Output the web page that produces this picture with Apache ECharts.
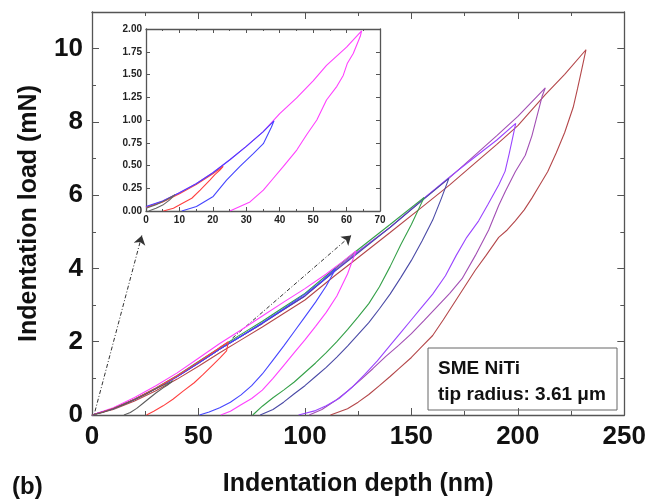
<!DOCTYPE html>
<html>
<head>
<meta charset="utf-8">
<script src="https://cdn.jsdelivr.net/npm/echarts@6/dist/echarts.min.js"></script>
<style>
html, body { margin: 0; padding: 0; background: #fff; }
#chart { width: 649px; height: 502px; }
</style>
</head>
<body>
<div id="chart"></div>
<script>
// load-depth curves, points are [depth (nm), load (mN)], loading then unloading
const curveGray = [[0,0],[5,0.07],[10,0.17],[15,0.29],[20,0.42],[25,0.56],[30,0.72],[35,0.85],[38,0.93],
  [35.5,0.82],[33.4,0.74],[30,0.6],[27.2,0.47],[24,0.32],[21,0.18],[18,0.07],[15,0]];
const curveRed = [[0,0],[5,0.08],[10,0.18],[15,0.3],[20,0.43],[25,0.58],[30,0.73],[35,0.9],[40,1.07],[45,1.26],[50,1.45],[57,1.72],[64,2.0],
  [63.2,1.75],[60,1.55],[56.8,1.37],[52.1,1.1],[48,0.88],[42.8,0.65],[38,0.43],[33.4,0.25],[29,0.1],[25.6,0]];
const curveBlue = [[0,0],[10,0.17],[20,0.42],[30,0.72],[40,1.05],[50,1.42],[60,1.8],[70,2.15],[80,2.52],[90,2.9],[100,3.3],[108,3.65],[114.5,4.0],
  [110,3.52],[105,3.08],[100,2.68],[95,2.28],[90,1.88],[85,1.5],[80,1.12],[75,0.8],[70,0.55],[65,0.35],[60,0.2],[55,0.08],[50.5,0]];
const curveMagenta = [[0,0],[10,0.2],[20,0.48],[30,0.8],[40,1.15],[50,1.55],[60,1.95],[70,2.32],[80,2.7],[90,3.08],[100,3.45],[110,3.85],[118,4.2],[124,4.48],
  [120,3.85],[115,3.25],[110,2.8],[105,2.42],[100,2.05],[95,1.7],[90,1.35],[85,1.0],[80,0.68],[75,0.45],[70,0.28],[65,0.1],[60.5,0]];
const curveGreen = [[0,0],[10,0.17],[20,0.43],[30,0.74],[40,1.08],[50,1.46],[60,1.84],[70,2.2],[80,2.56],[90,2.94],[100,3.32],[114,4.0],[124,4.47],[140,5.2],[156,5.94],
  [150,5.2],[145,4.65],[140,4.05],[135,3.5],[130,3.04],[125,2.68],[120,2.33],[115,2.0],[110,1.7],[105,1.42],[100,1.16],[95,0.9],[90,0.68],[85,0.47],[80,0.24],[75.5,0]];
const curveNavy = [[0,0],[10,0.17],[20,0.42],[30,0.72],[40,1.05],[50,1.42],[60,1.8],[70,2.15],[80,2.5],[90,2.88],[100,3.25],[114,3.92],[124,4.38],[140,5.12],[156,5.9],[167.6,6.46],
  [164,5.9],[160,5.32],[155,4.75],[150,4.22],[145,3.75],[140,3.3],[135,2.9],[130,2.52],[125,2.2],[120,1.88],[115,1.58],[110,1.3],[105,1.05],[100,0.8],[95,0.58],[90,0.35],[85,0.15],[79,0]];
const curveViolet = [[0,0],[10,0.17],[20,0.42],[30,0.72],[40,1.05],[50,1.42],[60,1.8],[70,2.15],[80,2.5],[90,2.88],[100,3.25],[114,3.95],[124,4.42],[140,5.12],[156,5.92],[168,6.5],[180,7.05],[190,7.5],[199,7.96],
  [197.5,7.55],[196,7.15],[194,6.65],[191,6.28],[186,5.75],[181.6,5.3],[176,4.85],[171,4.35],[166,3.8],[160,3.3],[155,2.95],[150,2.6],[145,2.25],[140,1.9],[134,1.48],[128,1.1],[122,0.75],[116,0.45],[110,0.25],[105,0.12],[97,0]];
const curvePurple = [[0,0],[10,0.17],[20,0.42],[30,0.72],[40,1.05],[50,1.42],[60,1.8],[70,2.15],[80,2.5],[90,2.88],[100,3.25],[114,3.95],[124,4.42],[140,5.12],[156,5.92],[168,6.48],[180,7.1],[190,7.62],[200,8.15],[212.9,8.93],
  [211.4,8.7],[209,8.16],[206.6,7.62],[203.5,7.09],[198.8,6.64],[194.1,6.1],[191,5.72],[186.3,5.05],[180,4.35],[173.8,3.72],[168,3.32],[162,2.95],[156,2.58],[150,2.22],[144,1.9],[138,1.6],[132,1.27],[126,0.95],[120,0.65],[114,0.38],[108,0.15],[102,0]];
const curveBrown = [[0,0],[10,0.15],[20,0.38],[30,0.66],[40,0.98],[50,1.33],[60,1.7],[70,2.05],[80,2.4],[90,2.77],[100,3.14],[114,3.8],[124,4.25],[140,4.98],[156,5.72],[168,6.28],[180,6.88],[190,7.38],[200,7.9],[213,8.75],[222,9.3],[232,9.97],
  [231,9.7],[229.5,9.3],[228,8.9],[226,8.4],[222,7.71],[218,7.15],[214,6.64],[210,6.25],[206.6,5.92],[203,5.6],[198.8,5.3],[195,5.05],[191,4.85],[185,4.35],[180,3.95],[175,3.5],[170,3.05],[165,2.6],[160,2.17],[155,1.87],[150,1.57],[144,1.26],[140,1.05],[135,0.8],[130,0.56],[125,0.35],[120,0.17],[112,0]];

// inset (low loads)
const insetGray = [[0,0.03],[3,0.07],[6,0.12],[8.7,0.18],[7,0.12],[5,0.065],[3,0.03],[0.8,0]];
const insetRed = [[0,0.04],[5,0.1],[10,0.19],[15,0.29],[20,0.41],[23.1,0.49],
  [22.1,0.45],[20.6,0.4],[19.1,0.34],[16.2,0.23],[13.7,0.14],[11.2,0.09],[8.2,0.03],[5.2,0]];
const insetBlue = [[0,0.05],[5,0.11],[10,0.2],[15,0.3],[20,0.42],[25,0.56],[30,0.71],[35,0.87],[38.3,0.99],
  [37.5,0.92],[37.1,0.89],[35.1,0.74],[32.1,0.63],[28.1,0.49],[24.1,0.34],[20.1,0.16],[15.1,0.05],[10.7,0]];
const insetMagenta = [[0,0.04],[5,0.11],[10,0.2],[15,0.3],[20,0.42],[25,0.56],[30,0.71],[35,0.87],[40,1.07],[45,1.24],[50,1.43],[54,1.6],[60,1.8],[64.5,1.98],
  [64.1,1.92],[62,1.73],[60.2,1.62],[59,1.49],[57.1,1.37],[54,1.22],[51.1,1.0],[48.1,0.84],[45.1,0.67],[41.1,0.49],[38.1,0.36],[35.1,0.23],[31.1,0.1],[28.1,0.05],[25.1,0]];

// dashed pointer arrows, [from, to] in main-plot units
const arrowLines = [[[1.4,0.1],[23.4,4.9]], [[66,2.1],[121.7,4.9]]];

const mainCurves = [
  { data: curveBrown, color: '#b4474a' },
  { data: curvePurple, color: '#a24fb4' },
  { data: curveViolet, color: '#9a45ff' },
  { data: curveNavy, color: '#4a4aa6' },
  { data: curveGreen, color: '#34a048' },
  { data: curveMagenta, color: '#ff40ff' },
  { data: curveBlue, color: '#4545ff' },
  { data: curveRed, color: '#ff4040' },
  { data: curveGray, color: '#5c5c5c' }
];
const insetCurves = [
  { data: insetMagenta, color: '#ff40ff' },
  { data: insetRed, color: '#ff4040' },
  { data: insetBlue, color: '#4545ff' },
  { data: insetGray, color: '#666666' }
];

const FONT = "'Liberation Sans', Arial, sans-serif";
const frame = { show: true, onZero: false, lineStyle: { color: '#555', width: 1.3 } };

function axisPair(gridIndex, min, max, interval, minorSplit, labelOpt, kind) {
  const base = {
    type: 'value', gridIndex, min, max, interval,
    axisLine: frame,
    splitLine: { show: false },
    axisTick: { show: true, inside: true, length: gridIndex === 0 ? 7 : 4, lineStyle: { color: '#555' } },
    minorTick: { show: minorSplit > 0, splitNumber: minorSplit || 5, length: gridIndex === 0 ? 4 : 2, lineStyle: { color: '#555' } }
  };
  return [
    Object.assign({}, base, { position: kind === 'x' ? 'bottom' : 'left', axisLabel: labelOpt }),
    Object.assign({}, base, { position: kind === 'x' ? 'top' : 'right', axisLabel: { show: false } })
  ];
}

const mainLabel = { show: true, fontFamily: FONT, fontWeight: 'bold', fontSize: 26, color: '#111', margin: 9, showMaxLabel: false };
const insetXLabel = { show: true, fontFamily: FONT, fontWeight: 'bold', fontSize: 10, color: '#222', margin: 4 };
const insetYLabel = Object.assign({}, insetXLabel, { formatter: v => v.toFixed(2) });

const xAxes = axisPair(0, 0, 250, 50, 2, Object.assign({}, mainLabel, { showMaxLabel: true }), 'x')
  .concat(axisPair(1, 0, 70, 10, 2, insetXLabel, 'x'));
const yAxes = axisPair(0, 0, 11, 2, 2, mainLabel, 'y')
  .concat(axisPair(1, 0, 2, 0.25, 0, insetYLabel, 'y'));

xAxes[0].name = 'Indentation depth (nm)';
xAxes[0].nameLocation = 'middle';
xAxes[0].nameGap = 57;
xAxes[0].nameTextStyle = { fontFamily: FONT, fontWeight: 'bold', fontSize: 25, color: '#111' };
yAxes[0].name = 'Indentation load (mN)';
yAxes[0].nameLocation = 'middle';
yAxes[0].nameGap = 50;
yAxes[0].nameTextStyle = { fontFamily: FONT, fontWeight: 'bold', fontSize: 25, color: '#111' };

const series = [];
mainCurves.forEach(c => series.push({
  type: 'line', xAxisIndex: 0, yAxisIndex: 0, data: c.data, showSymbol: false, silent: true,
  lineStyle: { color: c.color, width: 1.1 }
}));
insetCurves.forEach(c => series.push({
  type: 'line', xAxisIndex: 2, yAxisIndex: 2, data: c.data, showSymbol: false, silent: true,
  lineStyle: { color: c.color, width: 1.1 }
}));
series.push({
  type: 'lines', coordinateSystem: 'cartesian2d', xAxisIndex: 0, yAxisIndex: 0, silent: true,
  symbol: ['none', 'arrow'], symbolSize: 9,
  lineStyle: { color: '#333', width: 1, type: [4, 2, 1, 2], opacity: 1 },
  data: arrowLines.map(a => ({ coords: a }))
});

const chart = echarts.init(document.getElementById('chart'));
chart.setOption({
  animation: false,
  backgroundColor: '#fff',
  grid: [
    { left: 92, top: 12, width: 536, height: 409 },
    { left: 146, top: 29, width: 234, height: 182 }
  ],
  xAxis: xAxes,
  yAxis: yAxes,
  series: series,
  graphic: [
    { type: 'text', left: 12, top: 475, style: { text: '(b)', font: "bold 24px " + FONT, fill: '#111' } },
    { type: 'rect', shape: { x: 428, y: 348, width: 189, height: 62 }, style: { fill: '#fff', stroke: '#666', lineWidth: 1 } },
    { type: 'text', x: 438, y: 359, style: { text: 'SME NiTi', font: "bold 19px " + FONT, fill: '#111' } },
    { type: 'text', x: 438, y: 385, style: { text: 'tip radius: 3.61 \u03bcm', font: "bold 19px " + FONT, fill: '#111' } }
  ]
});
</script>
</body>
</html>
